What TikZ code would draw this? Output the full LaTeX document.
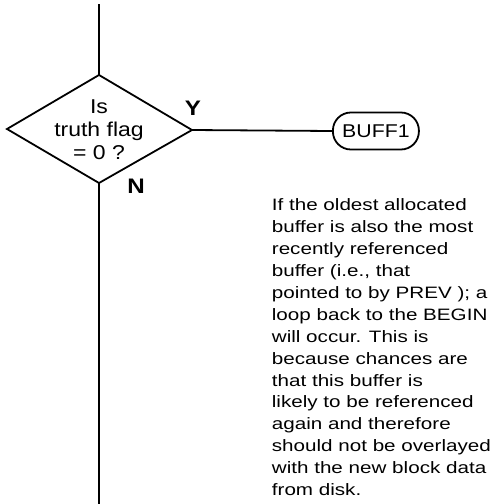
\documentclass[tikz,border=0pt]{standalone}
\usepackage{fontspec}
\setmainfont{Liberation Sans}
\newfontfamily\widefont[FakeStretch=1.25]{Liberation Sans}
\newfontfamily\qfont[FakeStretch=1.15]{Liberation Sans}
\usetikzlibrary{shapes.geometric,shapes.misc}
\begin{document}
\begin{tikzpicture}[x=1pt,y=-1pt,line width=1.8pt,
  txt/.style={font=\widefont\fontsize{16.5}{21.9}\selectfont},
  qtxt/.style={font=\qfont\fontsize{20}{23}\selectfont},
  lbl/.style={font=\qfont\fontsize{21}{21}\selectfont\bfseries},
  term/.style={draw,rectangle,rounded corners=18pt,minimum width=86pt,minimum height=37pt,inner sep=0pt,font=\qfont\fontsize{18.5}{18.5}\selectfont}]
\useasboundingbox (0,0) rectangle (490,504);
\coordinate (top) at (99,4);
\coordinate (bot) at (99,504);
\coordinate (dt) at (99,75);
\coordinate (dl) at (7,129);
\coordinate (dr) at (192,130);
\coordinate (db) at (99,183);
\draw (dt) -- (dr) -- (db) -- (dl) -- cycle;
\node[qtxt,align=center] (q) at (99,130) {Is\\truth flag\\= 0 ?};
\draw (top) -- (dt);
\draw (db) -- (bot);
\node[term,anchor=west] (buff) at (332,131) {BUFF1};
\draw (dr) -- (buff.west);
\node[lbl] (y) at (193,108) {Y};
\node[lbl] (n) at (136,186) {N};
\node[txt,align=left,anchor=north west,inner sep=0pt] (note) at (271,198) {If the oldest allocated\\buffer is also the most\\recently referenced\\buffer (i.e., that\\pointed to by PREV ); a\\loop back to the BEGIN\\will occur. This is\\because chances are\\that this buffer is\\likely to be referenced\\again and therefore\\should not be overlayed\\with the new block data\\from disk.};
\end{tikzpicture}
\end{document}
